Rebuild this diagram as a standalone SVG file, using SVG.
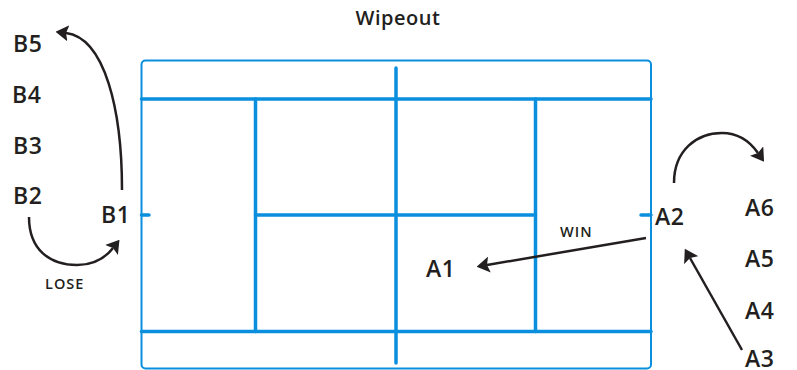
<svg xmlns="http://www.w3.org/2000/svg" width="797" height="370" viewBox="0 0 797 370">
<style>
.court{fill:none;stroke:#0a8fde;stroke-linecap:round}
.thin{stroke-width:2}
.thick{stroke-width:3.5}
.lbl{font-family:"Open Sans","Liberation Sans",sans-serif;font-size:23px;font-weight:600;fill:#231f20;letter-spacing:0.5px}
.small{font-family:"Open Sans","Liberation Sans",sans-serif;font-size:14.5px;font-weight:600;fill:#231f20;letter-spacing:1px}
.title{font-family:"Open Sans","Liberation Sans",sans-serif;font-size:20px;font-weight:600;fill:#231f20;letter-spacing:0.5px}
.arr{fill:none;stroke:#231f20;stroke-width:2.5;marker-end:url(#ah)}
</style>
<defs>
<marker id="ah" viewBox="0 0 8 10" refX="1.5" refY="5" markerWidth="5.2" markerHeight="6.5" markerUnits="strokeWidth" orient="auto">
<path d="M0,0 L8,5 L0,10 L1.5,5 Z" fill="#231f20"/>
</marker>
</defs>
<rect width="797" height="370" fill="#ffffff"/>
<text class="title" x="398" y="25" text-anchor="middle">Wipeout</text>
<g id="court">
<rect class="court thin" x="141.5" y="60.5" width="509.5" height="308" rx="4"/>
<line class="court thick" x1="141.5" y1="99" x2="651" y2="99"/>
<line class="court thick" x1="141.5" y1="331.5" x2="651" y2="331.5"/>
<line class="court thick" x1="255.5" y1="99" x2="255.5" y2="331.5"/>
<line class="court thick" x1="535.5" y1="99" x2="535.5" y2="331.5"/>
<line class="court thick" x1="255.5" y1="215" x2="535.5" y2="215"/>
<line class="court thick" x1="396" y1="68" x2="396" y2="363"/>
<line class="court thick" x1="141.5" y1="215" x2="149" y2="215"/>
<line class="court thick" x1="641" y1="215" x2="651" y2="215"/>
</g>
<g id="B5"><text class="lbl" x="13" y="52">B5</text></g>
<g id="B4"><text class="lbl" x="12" y="103">B4</text></g>
<g id="B3"><text class="lbl" x="13" y="154">B3</text></g>
<g id="B2"><text class="lbl" x="13" y="204">B2</text></g>
<g id="B1"><text class="lbl" x="101" y="223">B1</text></g>
<g id="A1"><text class="lbl" x="426" y="277">A1</text></g>
<g id="A2"><text class="lbl" x="655" y="225">A2</text></g>
<g id="A3"><text class="lbl" x="745" y="367">A3</text></g>
<g id="A4"><text class="lbl" x="745" y="319">A4</text></g>
<g id="A5"><text class="lbl" x="745" y="267">A5</text></g>
<g id="A6"><text class="lbl" x="745" y="216">A6</text></g>
<g id="connectors">
<path class="arr" d="M122,190 C122,110 105,38 66,33"/>
<path class="arr" d="M29,217 C29,250 50,265 77,265 C95,265 106,257 113,248"/>
<path class="arr" d="M674,183 C674,150 697,133 722,133 C740,133 751,143 758,153"/>
<path class="arr" d="M742,350 L690,258"/>
<path class="arr" d="M646,238 L487,265"/>
<text class="small" x="45" y="289">LOSE</text>
<text class="small" x="560" y="237">WIN</text>
</g>
</svg>
